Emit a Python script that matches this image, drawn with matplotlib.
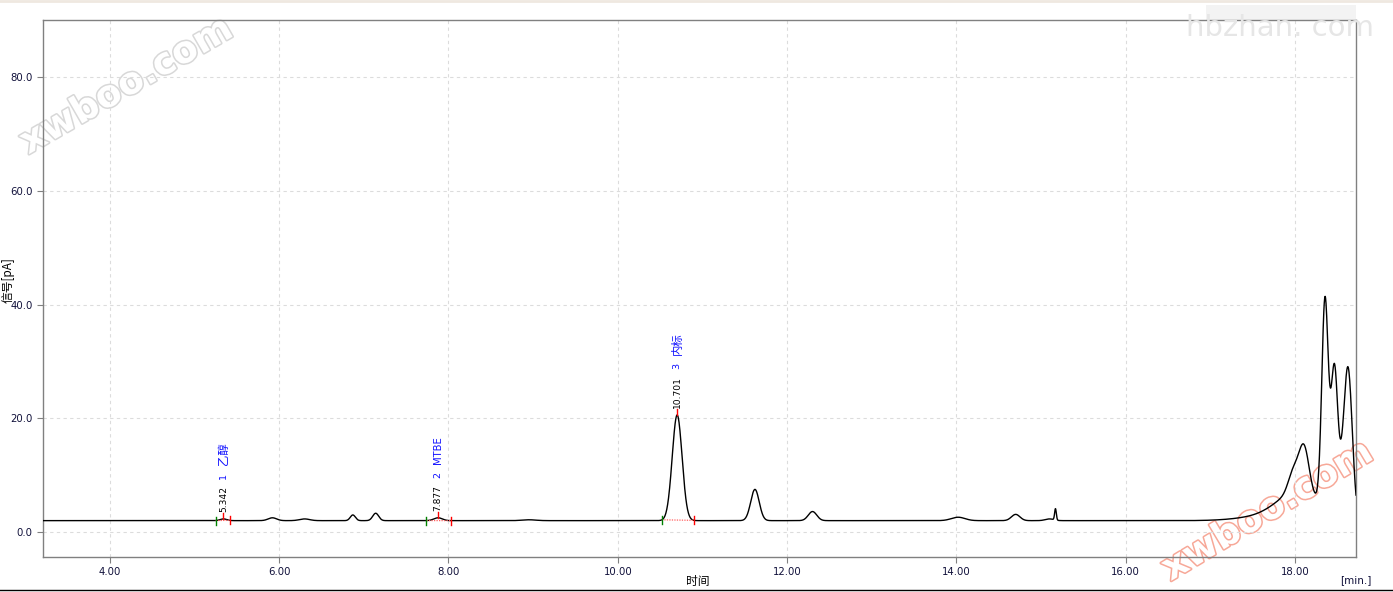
import numpy as np
import matplotlib
matplotlib.use("Agg")
import matplotlib.pyplot as plt
import matplotlib.patheffects as pe
from matplotlib.lines import Line2D
from matplotlib.patches import Rectangle

plt.rcParams['font.family'] = ['DejaVu Sans', 'Noto Sans CJK SC']

# ---- data ----
baseline_level = 2.0
peak_times   = [5.342, 5.92, 6.30, 6.87, 7.14, 7.877, 8.95, 10.701, 11.62, 12.30,
                14.02, 14.70, 15.10, 15.17,
                17.60, 18.05, 17.98, 18.105, 18.354, 18.465, 18.545, 18.625]
peak_heights = [0.3, 0.5, 0.3, 1.0, 1.3, 0.5, 0.15, 18.6, 5.5, 1.6,
                0.6, 1.1, 0.3, 2.0,
                0.6, 5.0, 3.5, 8.0, 36.5, 25.5, 3.0, 26.5]
peak_widths  = [0.04, 0.05, 0.06, 0.03, 0.035, 0.05, 0.08, 0.058, 0.05, 0.05,
                0.08, 0.05, 0.05, 0.01,
                0.30, 0.25, 0.06, 0.06, 0.038, 0.04, 0.035, 0.05]

# integrated peaks
id_times  = [5.342, 7.877, 10.701]
id_nums   = ["1", "2", "3"]
id_names  = ["乙醇", "MTBE", "内标"]
int_start = [5.25, 7.74, 10.52]
int_end   = [5.42, 8.03, 10.90]

x_ticks = [4, 6, 8, 10, 12, 14, 16, 18]
y_ticks = [0, 20, 40, 60, 80]

# ---- build trace ----
t = np.linspace(3.21, 18.72, 6000)

def signal(tt):
    tt = np.asarray(tt, dtype=float)
    s = np.full_like(tt, baseline_level)
    for c, h, w in zip(peak_times, peak_heights, peak_widths):
        s += h * np.exp(-0.5 * ((tt - c) / w) ** 2)
    return s

y = signal(t)

W, H = 1393, 592
fig = plt.figure(figsize=(W / 100, H / 100), dpi=100)
ax = fig.add_axes([43 / W, 1 - 557 / H, (1356 - 43) / W, (557 - 20) / H])
ax.set_zorder(1)
ax.patch.set_alpha(0)

ax.set_xlim(3.21, 18.72)
ax.set_ylim(-4.4, 90.1)
ax.set_xticks(x_ticks)
ax.set_xticklabels([f"{v:.2f}" for v in x_ticks])
ax.set_yticks(y_ticks)
ax.set_yticklabels([f"{v:.1f}" for v in y_ticks])
tick_col = '#10103a'
ax.tick_params(axis='both', labelsize=7.3, colors='#808080', labelcolor=tick_col,
               length=4, width=0.8, direction='out')
ax.grid(True, color='#dcdcdc', linestyle=(0, (3, 3)), linewidth=0.8)
ax.set_axisbelow(True)
for sp in ax.spines.values():
    sp.set_color('#808080')
    sp.set_linewidth(1.0)

ax.plot(t, y, color='black', linewidth=1.0, zorder=3)

# integration marks
px_y = (90.1 + 4.4) / (557 - 20)  # data units per pixel (y)
for tt, ts, te, num, name in zip(id_times, int_start, int_end, id_nums, id_names):
    ys, ye, ya = signal([ts, te, tt])
    ax.plot([ts, te], [ys, ye], color='#ff6060', linestyle=(0, (1, 1)),
            linewidth=0.9, zorder=4)
    tk = 4 * px_y
    ax.plot([ts, ts], [ys - tk, ys + tk], color='green', linewidth=1.0, zorder=5)
    ax.plot([te, te], [ye - tk, ye + tk], color='red', linewidth=1.0, zorder=5)
    ax.plot([tt, tt], [ya, ya + 1.5 * tk], color='red', linewidth=1.0, zorder=5)
    rt = ax.annotate(f"{tt:.3f}", xy=(tt, ya), xytext=(0, 7), textcoords='offset pixels',
                     rotation=90, ha='center', va='bottom', fontsize=6.6, color='black',
                     zorder=6)
    nt = ax.annotate(num, xy=(0.5, 1), xycoords=rt, xytext=(0, 7),
                     textcoords='offset pixels', rotation=90, ha='center', va='bottom',
                     fontsize=6.8, color='#1010ff', zorder=6)
    ax.annotate(name, xy=(0.5, 1), xycoords=nt, xytext=(0, 8),
                textcoords='offset pixels', rotation=90, ha='center', va='bottom',
                fontsize=7.2 if name.isascii() else 8.2, color='#1010ff', zorder=6,
                family=['DejaVu Sans', 'Noto Sans CJK SC'])

# axis labels
fig.text(698 / W, 1 - 581 / H, "时间", ha='center', va='center', fontsize=8.5,
         color='black', family=['Noto Sans CJK SC'])
fig.text(8 / W, 1 - 280 / H, "信号[pA]", ha='center', va='center', fontsize=8.5,
         rotation=90, color='black', family=['Noto Sans CJK SC', 'DejaVu Sans'])
fig.text(1356 / W, 1 - 580 / H, "[min.]", ha='center', va='center', fontsize=7.5,
         color=tick_col)

# frame lines
fig.add_artist(Line2D([0, 1], [1 - 1 / H, 1 - 1 / H], color='#efe8e0', linewidth=2))
fig.add_artist(Line2D([0, 1], [1 - 590 / H, 1 - 590 / H], color='black', linewidth=1))

# watermarks (behind the trace)
fig.add_artist(Rectangle((1206 / W, 1 - 20 / H), 150 / W, 15 / H, transform=fig.transFigure,
                         facecolor='#f3f3f3', edgecolor='none', zorder=0))
fig.text(1280 / W, 1 - 28 / H, "hbzhan. com", ha='center', va='center', fontsize=21,
         color='#e6e6e6', zorder=5)
fig.text(127 / W, 1 - 86 / H, "xwboo.com", ha='center', va='center', fontsize=27,
         rotation=30, color='white', fontweight='bold', zorder=0.5,
         path_effects=[pe.withStroke(linewidth=2.2, foreground='#d8d8d8')])
fig.text(1268 / W, 1 - 511 / H, "xwboo.com", ha='center', va='center', fontsize=27,
         rotation=31, color='white', fontweight='bold', zorder=0.5,
         path_effects=[pe.withStroke(linewidth=2.2, foreground='#f7a898')])

fig.savefig("out.png", dpi=100)
